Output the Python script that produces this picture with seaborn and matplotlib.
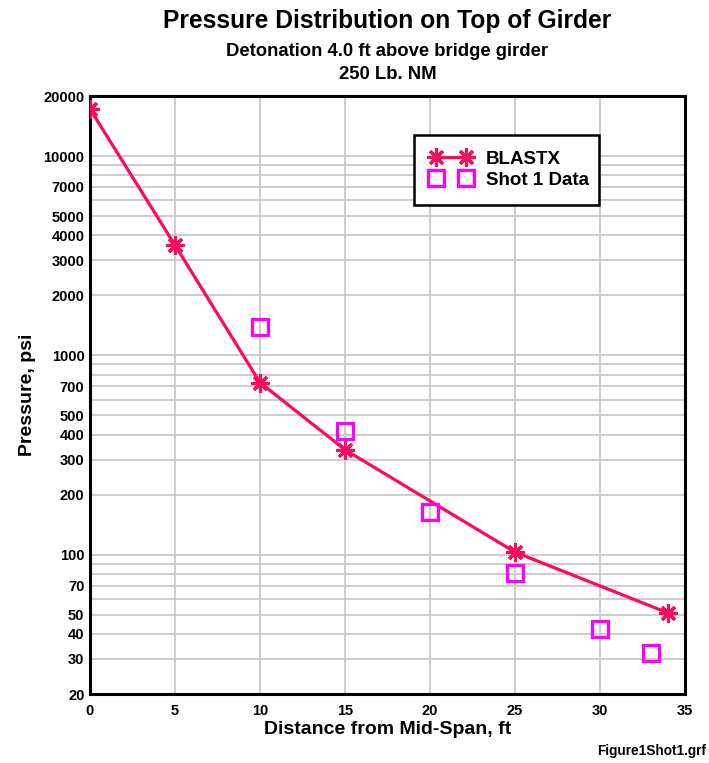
import matplotlib
matplotlib.use("Agg")
import matplotlib.pyplot as plt
import matplotlib.ticker as mticker
import seaborn as sns
import pandas as pd

# BLASTX prediction along the girder
blastx_dist = [0, 5, 10, 15, 25, 34]
blastx_psi = [17200, 3570, 730, 336, 103, 51]

# Shot 1 gauge readings
shot_dist = [10, 15, 20, 25, 30, 33]
shot_psi = [1390, 417, 164, 81, 42.5, 32]

y_labeled = [20, 30, 40, 50, 70, 100, 200, 300, 400, 500, 700,
             1000, 2000, 3000, 4000, 5000, 7000, 10000, 20000]
x_ticks = [0, 5, 10, 15, 20, 25, 30, 35]

sns.set_style("white")
plt.rcParams["font.family"] = ["Liberation Sans", "DejaVu Sans"]
plt.rcParams["font.weight"] = "bold"
plt.rcParams["text.color"] = "black"
plt.rcParams["axes.labelcolor"] = "black"
plt.rcParams["xtick.color"] = "black"
plt.rcParams["ytick.color"] = "black"

fig = plt.figure(figsize=(7.09, 7.63), dpi=100)
ax = fig.add_axes([90 / 709, 69 / 763, 595 / 709, 598 / 763])

blastx = pd.DataFrame({"dist": blastx_dist, "psi": blastx_psi})
shot = pd.DataFrame({"dist": shot_dist, "psi": shot_psi})

red = "#FF0A5A"
mag = "#FF00FF"

sns.lineplot(data=blastx, x="dist", y="psi", ax=ax, color=red, linewidth=2.3,
             marker=(8, 2, 0), markersize=13, markeredgewidth=2.2,
             markeredgecolor=red, zorder=4)
sns.lineplot(data=shot, x="dist", y="psi", ax=ax, color=mag, linestyle="",
             marker="s", markersize=11, markerfacecolor="none",
             markeredgecolor=mag, markeredgewidth=2.3, zorder=5)

ax.set_yscale("log")
ax.set_xlim(0, 35)
ax.set_ylim(20, 20000)

# gridlines at every 1..9 multiple of each decade, labels only on some
grid_vals = sorted({m * 10 ** e for e in range(1, 5) for m in range(1, 10)
                    if 20 <= m * 10 ** e <= 20000})
ax.yaxis.set_major_locator(mticker.FixedLocator(grid_vals))
ax.yaxis.set_major_formatter(mticker.FuncFormatter(
    lambda v, p: f"{int(round(v))}" if int(round(v)) in y_labeled else ""))
ax.yaxis.set_minor_locator(mticker.NullLocator())
ax.set_xticks(x_ticks)
ax.set_xticklabels([str(t) for t in x_ticks])

ax.grid(True, which="major", color="#C8C8C8", linewidth=1.3)
ax.set_axisbelow(True)
ax.tick_params(axis="both", length=0, labelsize=10.5)
ax.tick_params(axis="x", pad=7)
ax.tick_params(axis="y", pad=4)
for lab in ax.get_xticklabels() + ax.get_yticklabels():
    lab.set_fontweight("bold")
for sp in ax.spines.values():
    sp.set_visible(True)
    sp.set_color("black")
    sp.set_linewidth(2.2)

ax.set_xlabel("Distance from Mid-Span, ft", fontsize=14, fontweight="bold", labelpad=2)
ax.set_ylabel("Pressure, psi", fontsize=14, fontweight="bold", labelpad=5)

fig.text(0.5465, 0.972, "Pressure Distribution on Top of Girder",
         ha="center", va="center", fontsize=17.7, fontweight="bold")
fig.text(0.5465, 0.933, "Detonation 4.0 ft above bridge girder",
         ha="center", va="center", fontsize=13.3, fontweight="bold")
fig.text(0.5465, 0.903, "250 Lb. NM",
         ha="center", va="center", fontsize=13.3, fontweight="bold")
fig.text(0.996, 0.016, "Figure1Shot1.grf", ha="right", va="center",
         fontsize=9.8, fontweight="bold")

handles = ax.get_lines()[:2]
leg = ax.legend(handles, ["BLASTX", "Shot 1 Data"], numpoints=2,
                loc="upper left", bbox_to_anchor=(0.5445, 0.5, 0.311, 0.4348),
                mode="expand", borderaxespad=0,
                frameon=True, fancybox=False, framealpha=1,
                prop={"weight": "bold", "size": 13.5},
                handlelength=2.2, handletextpad=0.8, borderpad=0.85,
                labelspacing=0.2)
leg.get_frame().set_edgecolor("black")
leg.get_frame().set_linewidth(1.8)

fig.savefig("out.png", dpi=100)
